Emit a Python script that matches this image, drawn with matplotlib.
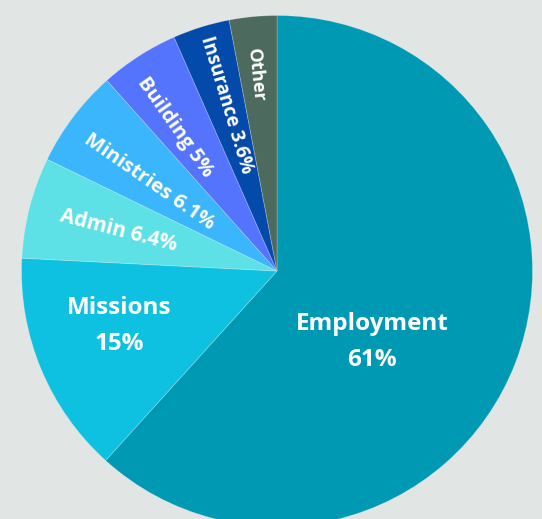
import numpy as np
import matplotlib.pyplot as plt

# budget shares, clockwise from the top (read from the slice edges)
categories = ["Employment", "Missions", "Admin", "Ministries", "Building", "Insurance", "Other"]
shares = [61.7, 14.1, 6.4, 6.2, 5.0, 3.6, 3.0]
labels = ["Employment\n61%", "Missions\n15%", "Admin 6.4%", "Ministries 6.1%",
          "Building 5%", "Insurance 3.6%", "Other"]
colors = ["#0099b4", "#0fc1e0", "#5ee1e6", "#3bb6fc", "#5474fe", "#044aab", "#4d6a5e"]

plt.rcParams['font.family'] = ['Open Sans', 'DejaVu Sans']

fig = plt.figure(figsize=(5.42, 5.19), dpi=100)
fig.patch.set_facecolor("#e1e5e4")
ax = fig.add_axes([0, 0, 1, 1])

cx, cy, R = 277, 248, 255.5
wedges, _ = ax.pie(shares, colors=colors, startangle=90, counterclock=False,
                   center=(cx, cy), radius=R, frame=True,
                   wedgeprops=dict(linewidth=0.6, edgecolor=(1, 1, 1, 0.25)))
ax.set_xlim(0, 542)
ax.set_ylim(0, 519)
ax.set_aspect("equal")
ax.axis("off")

# label placement: (radius fraction, angle offset from mid, rotated?)
place = [(0.464, -15.8, False), (0.655, -3.3, False), (0.64, 0, True), (0.61, 2.3, True),
         (0.69, 2.4, True), (0.68, -0.5, True), (0.77, 0.7, True)]
sizes = [17.5, 17.5, 14.8, 14.7, 14.5, 13.6, 13.2]

for w, lab, (rf, off, rot), fs in zip(wedges, labels, place, sizes):
    mid = (w.theta1 + w.theta2) / 2 + off
    x = cx + rf * R * np.cos(np.radians(mid))
    y = cy + rf * R * np.sin(np.radians(mid))
    if rot:
        ax.text(x, y, lab, rotation=mid - 180, rotation_mode="anchor",
                ha="center", va="center", color="white", fontsize=fs, fontweight="bold")
    else:
        ax.text(x, y, lab, ha="center", va="center", color="white", fontsize=fs,
                fontweight="bold", linespacing=1.7)

fig.savefig("out.png", dpi=100, facecolor=fig.get_facecolor())
